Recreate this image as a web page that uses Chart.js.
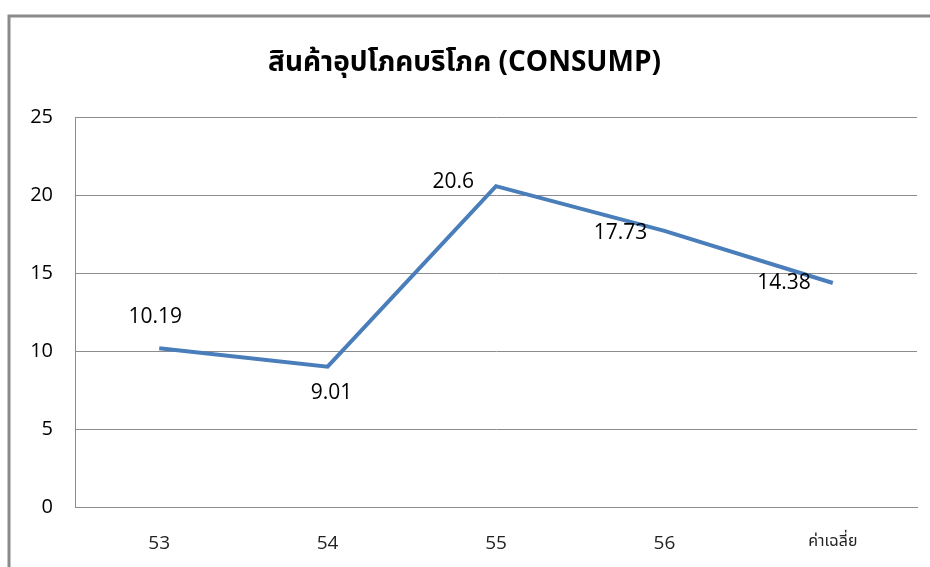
<!DOCTYPE html>
<html>
<head>
<meta charset="utf-8">
<script src="https://cdn.jsdelivr.net/npm/chart.js@4/dist/chart.umd.min.js"></script>
<style>
    html, body { margin: 0; padding: 0; background: #fff; }
    #wrap { width: 930px; height: 567px; }
</style>
</head>
<body>
<div id="wrap"><canvas id="chart" width="930" height="567"></canvas></div>
<script>
const TITLE = "สินค้าอุปโภคบริโภค (CONSUMP)";
const CATEGORIES = ["53", "54", "55", "56", "ค่าเฉลี่ย"];
const VALUES = [10.19, 9.01, 20.6, 17.73, 14.38];
const LABEL_POS = ["above", "below", "left", "belowLeft", "left"];

const FONT = "'Open Sans', 'Noto Sans', 'Noto Sans Thai', sans-serif";
const GRID = "#8c8c8c";

// frame around the chart (top and left edge are visible in the reference)
const framePlugin = {
    id: "frame",
    beforeDraw(chart) {
        const c = chart.ctx;
        c.save();
        c.strokeStyle = "#8a8a8a";
        c.lineWidth = 3;
        c.beginPath();
        c.moveTo(9, 567);
        c.lineTo(9, 16);
        c.lineTo(930, 16);
        c.stroke();
        c.restore();
    },
};

// value labels placed the way the original has them
const valueLabels = {
    id: "valueLabels",
    afterDatasetsDraw(chart) {
        const c = chart.ctx;
        const meta = chart.getDatasetMeta(0);
        c.save();
        c.font = "21px " + FONT;
        c.fillStyle = "#000";
        c.textBaseline = "middle";
        meta.data.forEach((pt, i) => {
            const txt = String(VALUES[i]);
            let x = pt.x, y = pt.y;
            c.textAlign = "center";
            switch (LABEL_POS[i]) {
                case "above": x -= 4; y -= 31; break;
                case "below": x += 4; y += 26; break;
                case "left": x -= 22; c.textAlign = "right"; y -= 4; break;
                case "belowLeft": x -= 44; y += 2; break;
            }
            if (i === 4) y += 4;
            c.fillText(txt, x, y);
        });
        c.restore();
    },
};

new Chart(document.getElementById("chart"), {
    type: "line",
    data: {
        labels: CATEGORIES,
        datasets: [
            {
                data: VALUES,
                borderColor: "#4a7ebb",
                borderWidth: 4,
                pointRadius: 0,
                tension: 0,
                fill: false,
            },
        ],
    },
    options: {
        responsive: false,
        animation: false,
        layout: { padding: { top: 0, left: 12, right: 13, bottom: 0 } },
        plugins: {
            legend: { display: false },
            tooltip: { enabled: false },
            title: {
                display: true,
                text: TITLE,
                color: "#000",
                font: { family: FONT, size: 28, weight: "bold" },
                padding: { top: 46, bottom: 38 },
            },
        },
        scales: {
            x: {
                offset: true,
                grid: { display: false },
                border: { display: true, color: GRID, width: 1 },
                ticks: {
                    color: "#222",
                    padding: 17,
                    font: (ctx) => ({
                        family: FONT,
                        size: ctx.index === 4 ? 16 : 19,
                    }),
                },
                afterFit: (s) => { s.height = 60; },
            },
            y: {
                min: 0,
                max: 25,
                ticks: {
                    stepSize: 5,
                    color: "#000",
                    padding: 22,
                    font: { family: FONT, size: 20 },
                },
                grid: { color: GRID, drawTicks: false },
                border: { display: true, color: GRID, width: 1 },
                afterFit: (s) => { s.width = 63; },
            },
        },
    },
    plugins: [framePlugin, valueLabels],
});
</script>
</body>
</html>
